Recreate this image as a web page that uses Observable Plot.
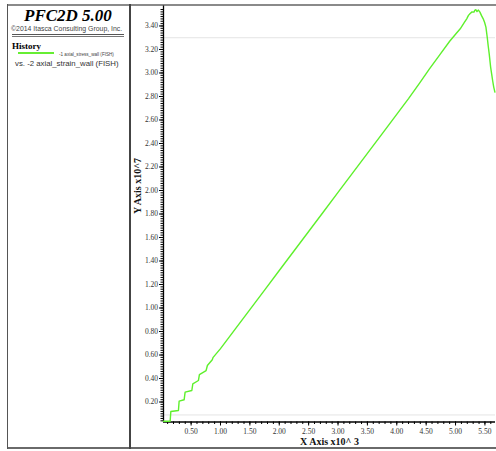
<!DOCTYPE html>
<html><head><meta charset="utf-8">
<script src="https://cdn.jsdelivr.net/npm/d3@7"></script>
<script src="https://cdn.jsdelivr.net/npm/@observablehq/plot@0.6"></script>
<style>
html,body{margin:0;padding:0;background:#fff;}
#wrap{position:relative;width:496px;height:451px;overflow:hidden;background:#fff;}
.ln{position:absolute;}
.t{position:absolute;white-space:nowrap;line-height:1;}
#chart{position:absolute;left:131px;top:0;}
</style></head>
<body>
<div id="wrap">
  <div class="ln" style="left:7px;top:4px;width:489px;height:2px;background:#8a8a8a"></div>
  <div class="ln" style="left:7px;top:447px;width:489px;height:2px;background:#6a6a6a"></div>
  <div class="ln" style="left:7px;top:4px;width:1px;height:445px;background:#555"></div>
  <div class="ln" style="left:129px;top:4px;width:2px;height:445px;background:#444"></div>
  <div class="t" id="title" style="left:24px;top:6px;font:italic bold 17px 'Liberation Serif';color:#000">PFC2D 5.00</div>
  <div class="t" id="copy" style="left:11px;top:25px;font:6.9px 'Liberation Sans';color:#444">©2014 Itasca Consulting Group, Inc.</div>
  <div class="ln" style="left:12px;top:34px;width:112px;height:1px;background:#555"></div>
  <div class="ln" style="left:12px;top:36px;width:112px;height:1px;background:#777"></div>
  <div class="t" id="hist" style="left:12px;top:41px;font:bold 9px 'Liberation Serif';color:#000">History</div>
  <div class="ln" style="left:18px;top:52px;width:36px;height:2px;background:#66ee33"></div>
  <div class="t" id="leg1" style="left:59px;top:51.5px;font:4.6px 'Liberation Sans';color:#444">-1 axial_stress_wall (FISH)</div>
  <div class="t" id="leg2" style="left:15px;top:59px;font:7.8px 'Liberation Sans';color:#333">vs. -2 axial_strain_wall (FISH)</div>
  <div id="chart"></div>
</div>
<script>
// strain (x10^3) and stress (x10^7)
const strainX = [0.03, 0.143, 0.155, 0.284, 0.296, 0.381, 0.398, 0.512, 0.529, 0.624, 0.641, 0.755, 0.777, 0.86, 0.875, 1.0, 1.25, 1.5, 1.75, 2.0, 2.25, 2.5, 2.75, 3.0, 3.25, 3.5, 3.75, 4.05, 4.2, 4.4, 4.55, 4.74, 4.9, 5.0, 5.08, 5.15, 5.19, 5.22, 5.245, 5.28, 5.313, 5.33, 5.347, 5.365, 5.386, 5.40, 5.415, 5.44, 5.471, 5.495, 5.517, 5.539, 5.556, 5.573, 5.597, 5.615, 5.631, 5.650, 5.670];
const stressY = [0.037, 0.037, 0.119, 0.128, 0.207, 0.219, 0.284, 0.298, 0.355, 0.383, 0.434, 0.468, 0.511, 0.56, 0.58, 0.654, 0.82, 0.986, 1.152, 1.319, 1.485, 1.651, 1.817, 1.984, 2.15, 2.316, 2.482, 2.682, 2.782, 2.922, 3.03, 3.16, 3.27, 3.33, 3.376, 3.43, 3.461, 3.49, 3.504, 3.52, 3.518, 3.535, 3.538, 3.522, 3.535, 3.528, 3.518, 3.49, 3.461, 3.43, 3.39, 3.305, 3.23, 3.163, 3.05, 2.99, 2.936, 2.88, 2.837];
const xTicks = [0.5, 1.0, 1.5, 2.0, 2.5, 3.0, 3.5, 4.0, 4.5, 5.0, 5.5];
const yTicks = [0.2, 0.4, 0.6, 0.8, 1.0, 1.2, 1.4, 1.6, 1.8, 2.0, 2.2, 2.4, 2.6, 2.8, 3.0, 3.2, 3.4];
const xMinor = d3.range(1, 57).map(i => i / 10);
const yMinor = d3.range(2, 178).map(i => i / 50);
const refLines = [0.09, 3.30];
const xTitle = "X Axis x10^ 3";
const yTitle = "Y Axis x10^7";

const data = strainX.map((x, i) => ({x, y: stressY[i]}));
const x0 = 0.03, y0 = 0.03;

const chart = Plot.plot({
  width: 365, height: 451,
  marginLeft: 32, marginRight: 1, marginTop: 5.5, marginBottom: 29.5,
  style: {background: "transparent", fontFamily: "'Liberation Serif'", color: "#333"},
  x: {domain: [x0, 5.68], label: null},
  y: {domain: [y0, 3.57], label: null},
  marks: [
    Plot.ruleY(refLines, {stroke: "#e4e4e4", strokeWidth: 1}),
    Plot.axisX(xMinor, {tickSize: 2.5, tickFormat: () => "", stroke: "#000", label: null}),
    Plot.axisY(yMinor, {tickSize: 2.5, tickFormat: () => "", stroke: "#000", label: null}),
    Plot.axisX(xTicks, {tickSize: 4, tickPadding: 3, tickFormat: d3.format(".2f"), fontSize: 7.5, fill: "#333", stroke: "#000", label: null}),
    Plot.axisY(yTicks, {tickSize: 4, tickPadding: 1.5, tickFormat: d3.format(".2f"), fontSize: 7.5, fill: "#333", stroke: "#000", label: null}),
    Plot.ruleX([x0], {stroke: "#000", strokeWidth: 1.3}),
    Plot.ruleY([y0], {stroke: "#000", strokeWidth: 1.3}),
    Plot.line(data, {x: "x", y: "y", stroke: "#5ef02c", strokeWidth: 1.4}),
    Plot.text([xTitle], {frameAnchor: "bottom", dy: 23, fontSize: 10, fontWeight: "bold", fill: "#111"}),
    Plot.text([yTitle], {frameAnchor: "left", dx: -26, rotate: -90, fontSize: 10, fontWeight: "bold", fill: "#111"})
  ]
});
document.getElementById("chart").appendChild(chart);
</script>
</body></html>
